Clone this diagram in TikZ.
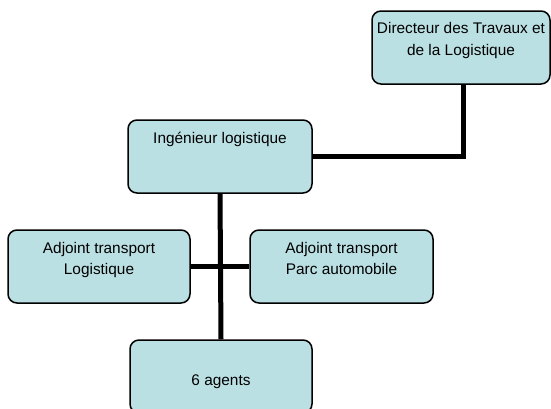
\documentclass[tikz,border=0pt]{standalone}
\usepackage{fontspec}
\setmainfont{Liberation Sans}
\usetikzlibrary{backgrounds}
\definecolor{boxcyan}{RGB}{187, 224, 227}

\begin{document}
\begin{tikzpicture}[x=1pt, y=-1pt,
    orgbox/.style={draw=black, line width=1.5pt, fill=boxcyan, rounded corners=9pt,
        minimum width=#1, minimum height=73pt, inner sep=0pt},
    orgbox/.default=182pt,
    orgtext/.style={anchor=north, align=center, inner sep=0pt,
        font=\fontsize{15.4}{21.5}\selectfont},
    link/.style={line width=5pt}]
\clip (0,0) rectangle (551,408);

% Boxes
\node[orgbox=178pt] (dir) at (461,47.5) {};
\node[orgbox=184pt] (ing) at (220,156.5) {};
\node[orgbox] (adjl) at (99,266.5) {};
\node[orgbox=183pt] (adjp) at (341.5,266.5) {};
\node[orgbox] (agents) at (221,376.5) {};

% Texts
\node[orgtext] (dirtxt) at ([yshift=-12pt]dir.north) {Directeur des Travaux et\\de la Logistique};
\node[orgtext] (ingtxt) at ([yshift=-12.5pt]ing.north) {Ingénieur logistique};
\node[orgtext] (adjltxt) at ([yshift=-12.5pt]adjl.north) {Adjoint transport\\Logistique};
\node[orgtext] (adjptxt) at ([yshift=-12.5pt]adjp.north) {Adjoint transport\\Parc automobile};
\node[orgtext, anchor=base] (agtxt) at ([yshift=-8.5pt]agents.center) {6 agents};

% Links
\begin{scope}[on background layer]
\draw[link] (ing.east) -| ([xshift=2pt]dir.south);
\draw[link] (ing.south) -- (agents.north);
\draw[link] (adjl.east) -- (adjp.west);
\end{scope}
\end{tikzpicture}
\end{document}
